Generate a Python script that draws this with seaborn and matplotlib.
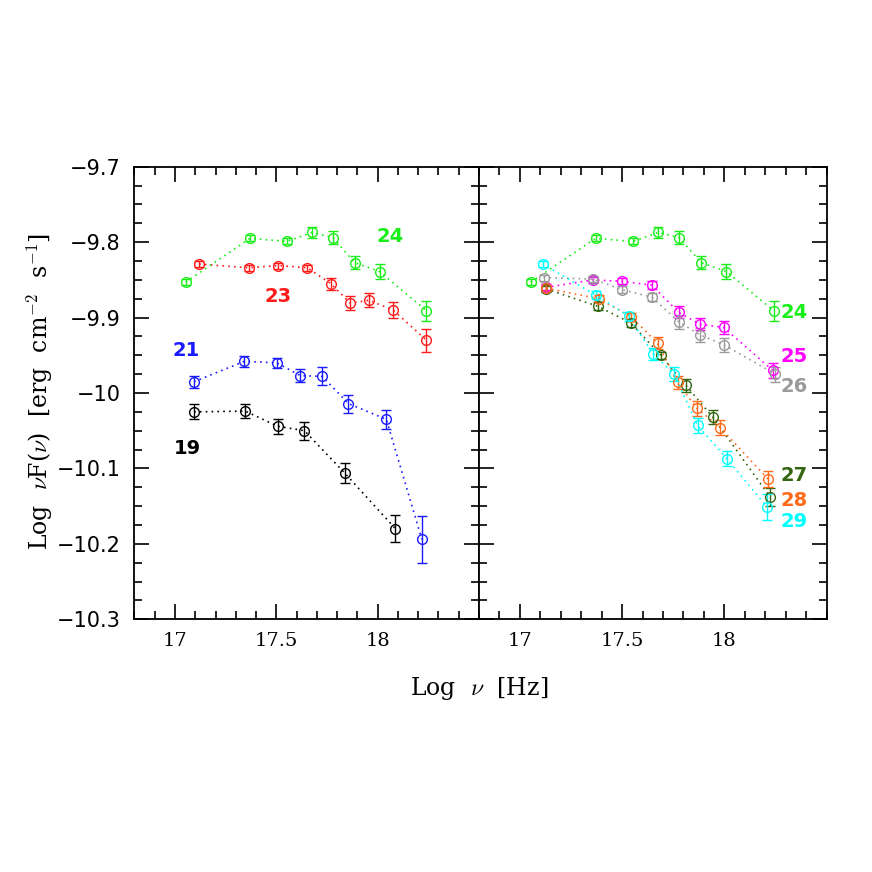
import numpy as np
import pandas as pd
import matplotlib
matplotlib.use("Agg")
import matplotlib.pyplot as plt
import seaborn as sns
from matplotlib.ticker import MultipleLocator


# data (log nu, log nuF(nu), 1-sigma error)

x19 = [17.094, 17.347, 17.506, 17.639, 17.837, 18.088]
y19 = [-10.025, -10.024, -10.044, -10.050, -10.106, -10.180]
e19 = [0.010, 0.009, 0.010, 0.012, 0.013, 0.018]

x21 = [17.094, 17.342, 17.502, 17.619, 17.726, 17.856, 18.043, 18.218]
y21 = [-9.985, -9.958, -9.960, -9.977, -9.978, -10.014, -10.035, -10.194]
e21 = [0.008, 0.007, 0.007, 0.009, 0.012, 0.012, 0.013, 0.031]

x23 = [17.119, 17.363, 17.510, 17.653, 17.769, 17.865, 17.957, 18.076, 18.241]
y23 = [-9.829, -9.834, -9.831, -9.834, -9.855, -9.881, -9.877, -9.890, -9.930]
e23 = [0.004, 0.004, 0.004, 0.004, 0.008, 0.009, 0.009, 0.010, 0.015]

x24 = [17.053, 17.370, 17.553, 17.677, 17.779, 17.886, 18.010, 18.241]
y24 = [-9.853, -9.795, -9.799, -9.787, -9.794, -9.827, -9.839, -9.891]
e24 = [0.004, 0.004, 0.004, 0.007, 0.009, 0.009, 0.010, 0.013]

x25 = [17.128, 17.357, 17.501, 17.645, 17.776, 17.881, 17.996, 18.236]
y25 = [-9.860, -9.850, -9.852, -9.857, -9.893, -9.909, -9.913, -9.970]
e25 = [0.004, 0.004, 0.004, 0.005, 0.008, 0.008, 0.009, 0.010]

x26 = [17.116, 17.357, 17.501, 17.645, 17.779, 17.881, 17.997, 18.249]
y26 = [-9.847, -9.849, -9.863, -9.873, -9.906, -9.923, -9.936, -9.975]
e26 = [0.004, 0.004, 0.005, 0.005, 0.009, 0.009, 0.009, 0.010]

x27 = [17.128, 17.381, 17.542, 17.689, 17.812, 17.943, 18.224]
y27 = [-9.862, -9.885, -9.907, -9.950, -9.990, -10.032, -10.138]
e27 = [0.004, 0.005, 0.005, 0.005, 0.009, 0.009, 0.012]

x28 = [17.128, 17.386, 17.545, 17.673, 17.771, 17.864, 17.980, 18.213]
y28 = [-9.861, -9.875, -9.899, -9.934, -9.986, -10.020, -10.046, -10.114]
e28 = [0.004, 0.005, 0.005, 0.008, 0.009, 0.010, 0.010, 0.011]

x29 = [17.111, 17.370, 17.532, 17.651, 17.754, 17.869, 18.012, 18.208]
y29 = [-9.829, -9.870, -9.898, -9.948, -9.975, -10.043, -10.087, -10.151]
e29 = [0.004, 0.005, 0.006, 0.008, 0.009, 0.010, 0.010, 0.017]

# which spectra go in which panel, and where their numbers are written
left_ids = ['19', '21', '23', '24']
right_ids = ['24', '25', '26', '27', '28', '29']
left_lab = {'24': (18.063, -9.792), '23': (17.51, -9.872),
            '21': (17.053, -9.943), '19': (17.06, -10.073)}
right_lab = {'24': (18.339, -9.893), '25': (18.339, -9.952), '26': (18.339, -9.992),
             '27': (18.339, -10.110), '28': (18.339, -10.142), '29': (18.339, -10.171)}

colors = {'19': 'black', '21': '#1a1aff', '23': '#ff1a1a', '24': '#1aee1a',
          '25': '#ff00ff', '26': '#9a9a9a', '27': '#336611', '28': '#ff6a1a',
          '29': '#00ffff'}

series = {'19': (x19, y19, e19), '21': (x21, y21, e21), '23': (x23, y23, e23),
          '24': (x24, y24, e24), '25': (x25, y25, e25), '26': (x26, y26, e26),
          '27': (x27, y27, e27), '28': (x28, y28, e28), '29': (x29, y29, e29)}


# style
sns.set_style("ticks")
plt.rcParams['font.family'] = ['DejaVu Serif']
plt.rcParams['mathtext.fontset'] = 'cm'
plt.rcParams['axes.linewidth'] = 1.3
plt.rcParams['text.color'] = 'black'
plt.rcParams['xtick.color'] = 'black'
plt.rcParams['ytick.color'] = 'black'

fig = plt.figure(figsize=(8.72, 8.72), dpi=100)
ax_l = fig.add_axes([0.1542, 0.2898, 0.3951, 0.5190])
ax_r = fig.add_axes([0.5493, 0.2898, 0.3987, 0.5190])


def draw_panel(ax, ids, labels):
    for sid in ids:
        x, y, e = series[sid]
        df = pd.DataFrame({'x': x, 'y': y})
        c = colors[sid]
        # dotted connecting line
        sns.lineplot(data=df, x='x', y='y', ax=ax, color=c, lw=1.2,
                     linestyle=(0, (1, 2.5)), sort=False, estimator=None)
        # open circles with error bars
        ax.errorbar(x, y, yerr=e, fmt='o', mfc='none', mec=c, ecolor=c,
                    ms=7, mew=1.0, elinewidth=1.0, capsize=3.5, capthick=1.0)
        tx, ty = labels[sid]
        ax.text(tx, ty, sid, color=c, fontsize=14, fontweight='semibold',
                family='DejaVu Sans', ha='center', va='center')

    ax.set_xlim(16.8, 18.5)
    ax.set_ylim(-10.3, -9.7)
    ax.xaxis.set_major_locator(MultipleLocator(0.5))
    ax.xaxis.set_minor_locator(MultipleLocator(0.1))
    ax.yaxis.set_major_locator(MultipleLocator(0.1))
    ax.yaxis.set_minor_locator(MultipleLocator(0.025))
    ax.tick_params(which='both', direction='in', top=True, right=True, width=1.2,
                   colors='black')
    ax.tick_params(which='major', length=11)
    ax.tick_params(which='minor', length=5.5)
    ax.tick_params(axis='x', which='major', labelsize=14, pad=9)
    ax.tick_params(axis='y', which='major', labelsize=15, pad=10)
    ax.set_xlabel('')
    ax.set_ylabel('')
    ax.set_xticks([17, 17.5, 18])
    ax.set_xticklabels(['17', '17.5', '18'])
    for sp in ax.spines.values():
        sp.set_visible(True)
        sp.set_color('black')


draw_panel(ax_l, left_ids, left_lab)
draw_panel(ax_r, right_ids, right_lab)

ax_l.set_yticks([-9.7, -9.8, -9.9, -10.0, -10.1, -10.2, -10.3])
ax_l.set_yticklabels(['\u22129.7', '\u22129.8', '\u22129.9', '\u221210',
                      '\u221210.1', '\u221210.2', '\u221210.3'], family='DejaVu Sans')
ax_r.tick_params(labelleft=False)

fig.text(0.046, 0.5516, r'Log  $\nu$F($\nu$)  [erg  cm$^{-2}$  s$^{-1}$]',
         fontsize=17, rotation=90, ha='center', va='center', color='black')
fig.text(0.55, 0.211, r'Log  $\nu$  [Hz]', fontsize=17, ha='center', va='center',
         color='black')

fig.savefig('out.png', dpi=100, facecolor='white')
